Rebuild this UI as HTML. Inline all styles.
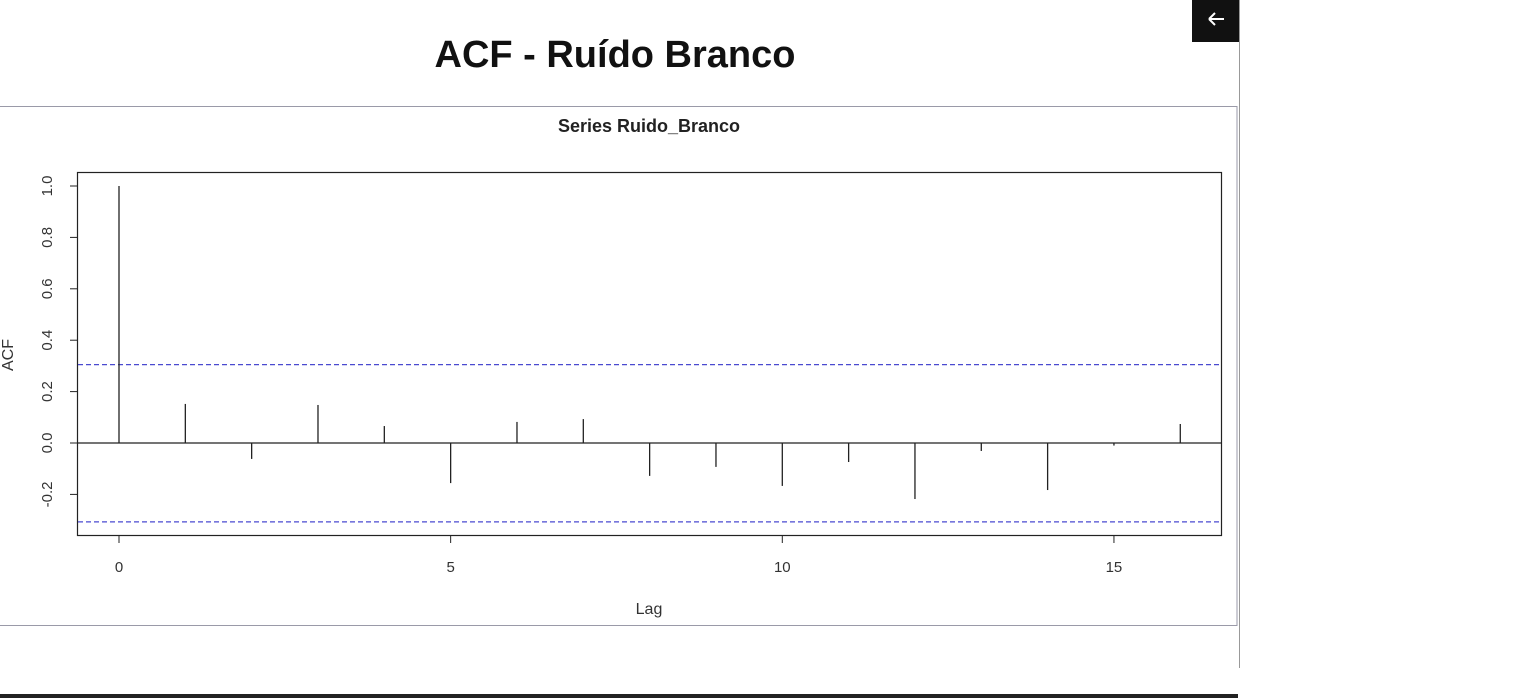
<!DOCTYPE html>
<html><head><meta charset="utf-8"><style>
html,body{margin:0;padding:0;background:#fff;width:1536px;height:698px;overflow:hidden;font-family:"Liberation Sans",sans-serif}
</style></head><body>
<svg width="1536" height="698" xmlns="http://www.w3.org/2000/svg">
<rect width="1536" height="698" fill="#fff"/>
<text x="615" y="67" text-anchor="middle" font-family="Liberation Sans, sans-serif" font-weight="bold" font-size="38" fill="#111">ACF - Ruído Branco</text>
<g>
<rect x="1192" y="0" width="47" height="42" fill="#111"/>
<path d="M1209 19 h15 M1209 19 l6 -6 M1209 19 l6 6" stroke="#fff" stroke-width="2" fill="none"/>
</g>
<line x1="1239.5" y1="0" x2="1239.5" y2="668" stroke="#999" stroke-width="1"/>
<rect x="0" y="694" width="1238" height="4" fill="#222"/>
<rect x="-1" y="106.5" width="1238" height="519" fill="#fff" stroke="#9a9aa8" stroke-width="1"/>
<text x="649" y="132" text-anchor="middle" font-weight="bold" font-size="18" fill="#222">Series  Ruido_Branco</text>
<rect x="77.5" y="172.5" width="1144" height="363" fill="none" stroke="#222" stroke-width="1.2"/>
<g id="chart"></g>
<text x="649" y="614" text-anchor="middle" font-size="16" fill="#333">Lag</text>
<text transform="translate(13,355) rotate(-90)" text-anchor="middle" font-size="16" fill="#333">ACF</text>
</svg>
<script>
const lags=[0,1,2,3,4,5,6,7,8,9,10,11,12,13,14,15,16];
const acf=[1,0.152,-0.062,0.148,0.066,-0.156,0.082,0.093,-0.128,-0.093,-0.167,-0.074,-0.218,-0.031,-0.183,-0.01,0.074];
const xTicks=[0,5,10,15];
const yTicks=[-0.2,0,0.2,0.4,0.6,0.8,1.0];
const yTickLabels=["-0.2","0.0","0.2","0.4","0.6","0.8","1.0"];
const ciBound=[0.305,-0.307];
const NS="http://www.w3.org/2000/svg";
const g=document.getElementById('chart');
const xs=v=>119+v*66.33;
const ys=v=>443-v*257;
function mk(t,a){const e=document.createElementNS(NS,t);for(const k in a)e.setAttribute(k,a[k]);g.appendChild(e);return e;}
xTicks.forEach(t=>{
 let l=mk('line',{x1:xs(t),x2:xs(t),y1:536,y2:543,stroke:'#222'});
 
 
 let tx=mk('text',{x:xs(t),y:572,'text-anchor':'middle','font-size':15,fill:'#333'});tx.textContent=t;
 
 
});
yTicks.forEach((t,i)=>{
 let l=mk('line',{x1:70,x2:77,y1:ys(t),y2:ys(t),stroke:'#222'});
 
 
 let tx=mk('text',{transform:`translate(52,${ys(t)}) rotate(-90)`,'text-anchor':'middle','font-size':15,fill:'#333'});tx.textContent=yTickLabels[i];
 
 
});
let z=mk('line',{x1:78,x2:1221,y1:ys(0),y2:ys(0),stroke:'#222','stroke-width':1.2});


ciBound.forEach(c=>{
 let l=mk('line',{x1:78,x2:1221,y1:ys(c),y2:ys(c),stroke:'#4a4ad0','stroke-width':1.3,'stroke-dasharray':'5,3'});
 
 
});
lags.forEach((k,i)=>{
 let l=mk('line',{x1:xs(k),x2:xs(k),y1:ys(0),y2:ys(acf[i]),stroke:'#222','stroke-width':1.3});
 
 
});
</script>
</body></html>
